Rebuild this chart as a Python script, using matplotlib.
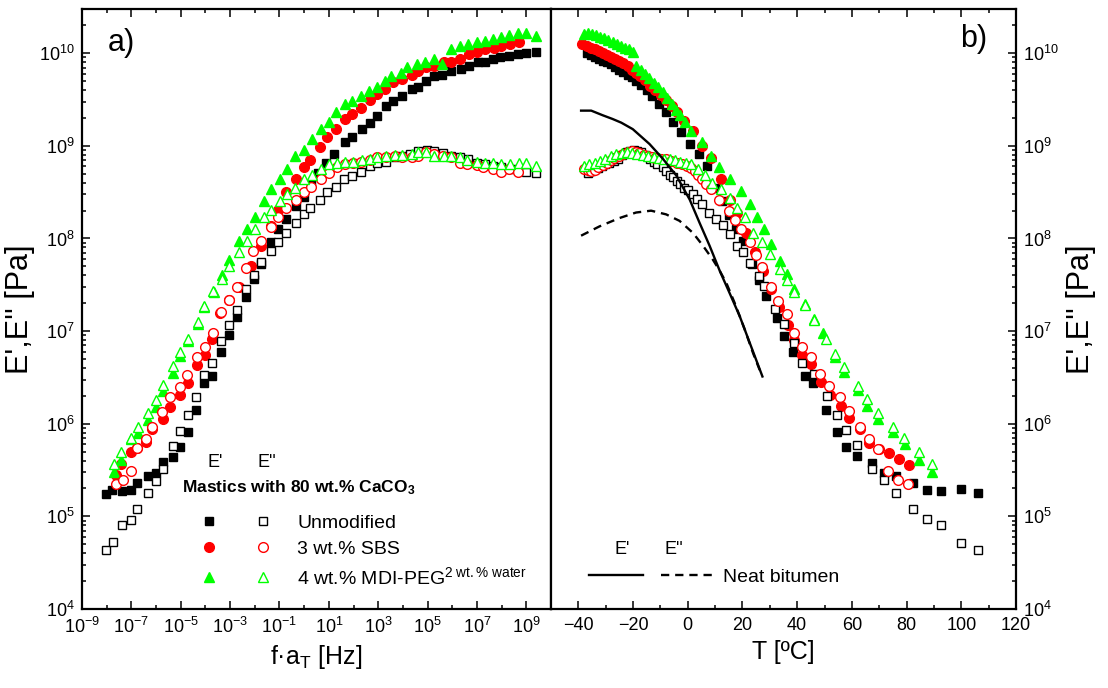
import numpy as np
import matplotlib
matplotlib.use('Agg')
import matplotlib.pyplot as plt
from matplotlib.ticker import FixedLocator, MultipleLocator, NullFormatter, LogFormatterSciNotation

plt.rcParams['font.family'] = ['Liberation Sans', 'DejaVu Sans']
plt.rcParams['mathtext.fontset'] = 'custom'
plt.rcParams['mathtext.rm'] = 'Liberation Sans'
plt.rcParams['mathtext.it'] = 'Liberation Sans:italic'
plt.rcParams['mathtext.bf'] = 'Liberation Sans:bold'

# ---- panel a): master curves vs reduced frequency (log10 f*aT, log10 E) ----
unmod_E1_lf = [-8.04, -7.77, -7.38, -7.03, -6.77, -6.33, -6.02, -5.72, -5.32, -5.01, -4.71, -4.40, -4.05, -3.74, -3.35,
               -3.04, -2.74, -2.34, -2.04, -1.73, -1.33, -1.07, -0.72, -0.33, -0.02, 0.26, 0.55, 0.87, 1.21, 1.64,
               1.95, 2.34, 2.65, 2.96, 3.31, 3.61, 3.97, 4.36, 4.62, 4.93, 5.28, 5.59, 5.94, 6.37, 6.68,
               7.03, 7.34, 7.64, 7.95, 8.30, 8.65, 9.00, 9.40]
unmod_E1_lE = [5.24, 5.29, 5.27, 5.29, 5.36, 5.44, 5.47, 5.59, 5.64, 5.75, 5.91, 6.15, 6.44, 6.52, 6.77,
               6.96, 7.15, 7.37, 7.56, 7.72, 7.96, 8.10, 8.21, 8.35, 8.45, 8.59, 8.71, 8.82, 8.91, 9.04,
               9.09, 9.18, 9.25, 9.32, 9.43, 9.48, 9.54, 9.61, 9.64, 9.70, 9.75, 9.77, 9.81, 9.83, 9.86,
               9.90, 9.91, 9.94, 9.96, 9.97, 9.99, 10.00, 10.01]
unmod_E2_lf = [-8.04, -7.73, -7.38, -7.03, -6.77, -6.33, -6.02, -5.72, -5.32, -5.01, -4.71, -4.40, -4.05, -3.74, -3.35,
               -3.04, -2.74, -2.34, -2.04, -1.73, -1.33, -1.07, -0.72, -0.33, -0.02, 0.24, 0.64, 0.94, 1.29, 1.60,
               1.95, 2.30, 2.65, 2.96, 3.31, 3.70, 3.97, 4.27, 4.62, 4.97, 5.28, 5.63, 5.94, 6.33, 6.64,
               6.99, 7.34, 7.64, 7.99, 8.35, 8.65, 9.00, 9.40]
unmod_E2_lE = [4.64, 4.72, 4.91, 4.96, 5.08, 5.25, 5.38, 5.51, 5.76, 5.92, 6.09, 6.29, 6.53, 6.66, 6.89,
               7.07, 7.23, 7.45, 7.61, 7.75, 7.86, 7.96, 8.06, 8.17, 8.26, 8.33, 8.42, 8.50, 8.56, 8.64,
               8.67, 8.72, 8.78, 8.82, 8.83, 8.88, 8.89, 8.91, 8.94, 8.96, 8.94, 8.92, 8.89, 8.88, 8.86,
               8.82, 8.80, 8.78, 8.77, 8.75, 8.75, 8.72, 8.71]
sbs_E1_lf = [-7.64, -7.42, -7.03, -6.77, -6.42, -6.15, -5.72, -5.45, -5.01, -4.71, -4.36, -4.01, -3.74, -3.39, -3.04,
             -2.65, -2.17, -1.73, -1.33, -1.07, -0.72, -0.33, -0.02, 0.24, 0.64, 0.94, 1.29, 1.64, 1.95, 2.30,
             2.65, 2.96, 3.26, 3.61, 3.97, 4.36, 4.62, 4.93, 5.28, 5.67, 5.94, 6.33, 6.68, 6.99, 7.34,
             7.69, 7.99, 8.35, 8.70]
sbs_E1_lE = [5.45, 5.57, 5.69, 5.74, 5.80, 5.94, 6.05, 6.18, 6.31, 6.44, 6.63, 6.74, 6.91, 7.20, 7.34,
             7.48, 7.70, 7.92, 8.13, 8.31, 8.50, 8.64, 8.77, 8.85, 8.99, 9.09, 9.18, 9.29, 9.34, 9.41,
             9.50, 9.56, 9.61, 9.69, 9.72, 9.77, 9.81, 9.85, 9.86, 9.90, 9.91, 9.94, 9.99, 10.01, 10.04,
             10.06, 10.08, 10.10, 10.12]
sbs_E2_lf = [-7.64, -7.34, -7.03, -6.77, -6.42, -6.15, -5.76, -5.45, -5.01, -4.75, -4.36, -4.01, -3.70, -3.35, -3.04,
             -2.74, -2.34, -2.08, -1.73, -1.33, -1.07, -0.72, -0.33, -0.02, 0.29, 0.68, 0.99, 1.34, 1.64, 1.99,
             2.30, 2.65, 2.96, 3.31, 3.70, 3.97, 4.36, 4.62, 4.93, 5.28, 5.63, 5.94, 6.33, 6.59, 6.99,
             7.25, 7.64, 7.99, 8.30, 8.65]
sbs_E2_lE = [5.35, 5.39, 5.49, 5.74, 5.84, 5.97, 6.13, 6.29, 6.40, 6.53, 6.72, 6.83, 6.98, 7.21, 7.34,
             7.48, 7.68, 7.86, 7.97, 8.12, 8.23, 8.33, 8.42, 8.50, 8.56, 8.64, 8.71, 8.77, 8.80, 8.82,
             8.83, 8.85, 8.88, 8.88, 8.89, 8.88, 8.88, 8.89, 8.93, 8.91, 8.89, 8.88, 8.82, 8.80, 8.79,
             8.77, 8.75, 8.72, 8.75, 8.72]
mdi_E1_lf = [-7.69, -7.42, -7.03, -6.72, -6.33, -6.02, -5.72, -5.32, -5.01, -4.71, -4.31, -4.05, -3.66, -3.31, -3.04,
             -2.65, -2.30, -1.99, -1.64, -1.33, -0.98, -0.68, -0.37, -0.02, 0.33, 0.68, 0.99, 1.29, 1.64, 1.95,
             2.30, 2.61, 2.96, 3.26, 3.53, 3.92, 4.18, 4.58, 4.88, 5.24, 5.59, 5.94, 6.33, 6.64, 6.99,
             7.34, 7.64, 7.99, 8.30, 8.65, 9.00, 9.40]
mdi_E1_lE = [5.48, 5.61, 5.83, 5.90, 6.04, 6.18, 6.35, 6.55, 6.73, 6.89, 7.08, 7.26, 7.42, 7.61, 7.77,
             7.97, 8.10, 8.23, 8.40, 8.53, 8.64, 8.75, 8.89, 8.96, 9.07, 9.18, 9.26, 9.36, 9.45, 9.48,
             9.54, 9.59, 9.64, 9.70, 9.75, 9.79, 9.85, 9.88, 9.91, 9.94, 9.88, 10.04, 10.08, 10.10, 10.12,
             10.13, 10.15, 10.18, 10.20, 10.22, 10.22, 10.19]
mdi_E2_lf = [-7.69, -7.42, -7.03, -6.72, -6.33, -6.02, -5.72, -5.32, -5.01, -4.71, -4.31, -4.05, -3.70, -3.31, -3.04,
             -2.65, -2.30, -1.99, -1.64, -1.33, -0.98, -0.68, -0.37, -0.02, 0.33, 0.68, 0.99, 1.34, 1.64, 1.99,
             2.34, 2.65, 2.96, 3.31, 3.70, 3.97, 4.36, 4.62, 4.93, 5.28, 5.67, 5.94, 6.33, 6.59, 6.99,
             7.34, 7.64, 7.99, 8.35, 8.70, 9.00, 9.40]
mdi_E2_lE = [5.57, 5.69, 5.85, 5.97, 6.12, 6.26, 6.42, 6.62, 6.77, 6.91, 7.10, 7.27, 7.43, 7.56, 7.70,
             7.85, 7.97, 8.10, 8.23, 8.31, 8.40, 8.48, 8.55, 8.64, 8.69, 8.75, 8.80, 8.82, 8.83, 8.83,
             8.85, 8.86, 8.88, 8.89, 8.90, 8.90, 8.91, 8.93, 8.93, 8.89, 8.89, 8.89, 8.88, 8.85, 8.83,
             8.82, 8.82, 8.80, 8.80, 8.82, 8.82, 8.78]

# ---- panel b): temperature sweeps (T in degC, log10 E) ----
unmod_E1_T = [-37.0, -35.5, -34.0, -32.5, -31.0, -29.5, -28.0, -26.5, -25.0, -23.5, -22.0, -20.5, -19.0, -17.0, -15.0,
              -13.0, -10.5, -8.0, -5.5, -2.5, 0.8, 4.1, 7.0, 10.0, 12.5, 15.0, 17.5, 20.1, 23.4, 26.0,
              28.6, 32.5, 35.1, 38.4, 42.7, 45.8, 50.7, 54.4, 58.0, 62.0, 67.4, 71.6, 76.3, 82.3, 87.5,
              92.7, 100.0, 106.2]
unmod_E1_TlE = [10.00, 9.98, 9.96, 9.94, 9.92, 9.90, 9.88, 9.85, 9.82, 9.80, 9.77, 9.74, 9.70, 9.66, 9.60,
                9.54, 9.45, 9.36, 9.26, 9.15, 9.02, 8.91, 8.78, 8.55, 8.40, 8.25, 8.10, 7.97, 7.72, 7.55,
                7.38, 7.14, 6.95, 6.77, 6.52, 6.44, 6.15, 5.91, 5.75, 5.65, 5.58, 5.47, 5.44, 5.36, 5.29,
                5.27, 5.30, 5.25]
unmod_E2_T = [-36.6, -35.3, -34.0, -32.7, -31.4, -30.1, -28.8, -27.1, -25.5, -23.9, -22.3, -21.0, -19.7, -18.4, -17.1,
              -15.5, -13.8, -12.5, -11.2, -9.2, -7.9, -6.6, -5.3, -4.0, -2.7, -1.4, 0.2, 1.9, 3.5, 5.1,
              7.7, 10.3, 12.9, 15.5, 18.1, 20.1, 22.7, 26.0, 27.9, 31.8, 35.1, 39.0, 41.9, 46.2, 51.0,
              54.4, 57.9, 62.0, 67.4, 71.6, 76.3, 82.3, 87.5, 92.7, 100.0, 106.2]
unmod_E2_TlE = [8.71, 8.73, 8.75, 8.76, 8.78, 8.80, 8.82, 8.84, 8.86, 8.90, 8.93, 8.94, 8.95, 8.94, 8.93,
                8.90, 8.86, 8.83, 8.80, 8.77, 8.73, 8.69, 8.66, 8.62, 8.59, 8.55, 8.52, 8.48, 8.43, 8.37,
                8.28, 8.21, 8.14, 8.05, 7.92, 7.85, 7.74, 7.60, 7.49, 7.24, 7.08, 6.87, 6.66, 6.54, 6.30,
                6.09, 5.93, 5.77, 5.51, 5.39, 5.25, 5.08, 4.97, 4.91, 4.71, 4.64]
sbs_E1_T = [-38.6, -37.0, -35.5, -34.0, -32.5, -31.0, -29.5, -28.0, -26.5, -25.0, -23.5, -22.0, -20.5, -19.0, -17.5,
            -15.8, -13.8, -11.8, -9.8, -7.9, -5.9, -4.0, -1.4, 1.9, 5.1, 8.4, 12.3, 15.5, 18.1, 21.4,
            24.5, 27.5, 30.5, 33.5, 36.5, 39.0, 41.9, 44.9, 48.8, 52.0, 56.0, 59.0, 63.1, 66.4, 70.0,
            73.6, 77.1, 80.7]
sbs_E1_TlE = [10.10, 10.08, 10.06, 10.04, 10.02, 10.00, 9.98, 9.96, 9.94, 9.92, 9.89, 9.86, 9.82, 9.79, 9.75,
              9.71, 9.65, 9.60, 9.55, 9.49, 9.43, 9.37, 9.27, 9.16, 9.00, 8.87, 8.64, 8.42, 8.28, 8.06,
              7.85, 7.65, 7.45, 7.26, 7.07, 6.90, 6.74, 6.64, 6.45, 6.31, 6.19, 6.06, 5.94, 5.79, 5.73,
              5.68, 5.62, 5.55]
sbs_E2_T = [-37.9, -36.6, -35.3, -34.0, -32.7, -31.0, -29.4, -28.1, -26.8, -25.2, -23.6, -22.0, -20.3, -19.0, -17.7,
            -16.0, -14.4, -13.1, -11.8, -9.8, -7.9, -6.0, -4.0, -2.0, -0.1, 1.2, 2.5, 3.8, 5.1, 6.7,
            8.4, 11.6, 14.9, 17.2, 19.5, 22.7, 24.8, 27.0, 30.5, 33.1, 36.4, 39.0, 41.9, 44.9, 48.4,
            51.8, 55.7, 58.8, 63.1, 66.4, 69.6, 73.2, 76.8, 80.5]
sbs_E2_TlE = [8.75, 8.74, 8.73, 8.74, 8.77, 8.79, 8.82, 8.85, 8.87, 8.89, 8.91, 8.93, 8.94, 8.93, 8.92,
              8.90, 8.89, 8.88, 8.87, 8.86, 8.86, 8.84, 8.82, 8.80, 8.78, 8.76, 8.73, 8.69, 8.64, 8.59,
              8.53, 8.42, 8.30, 8.20, 8.10, 7.96, 7.82, 7.69, 7.48, 7.33, 7.18, 6.98, 6.83, 6.72, 6.54,
              6.41, 6.29, 6.14, 5.96, 5.83, 5.73, 5.49, 5.39, 5.35]
mdi_E1_T = [-37.9, -36.5, -35.0, -33.5, -32.0, -30.5, -29.0, -27.5, -26.0, -24.5, -23.0, -21.5, -20.0, -18.8, -17.2,
            -15.6, -14.0, -12.4, -10.8, -9.2, -7.6, -5.9, -4.3, -2.7, -1.0, 1.2, 5.1, 8.4, 11.6, 15.5,
            19.5, 22.7, 25.3, 27.9, 30.5, 33.8, 36.4, 39.0, 42.9, 46.2, 49.4, 54.0, 57.3, 62.2, 65.7,
            69.6, 74.9, 79.5, 84.6, 89.2]
mdi_E1_TlE = [10.21, 10.22, 10.21, 10.20, 10.18, 10.16, 10.14, 10.12, 10.10, 10.08, 10.06, 10.04, 10.01, 9.86, 9.82,
              9.78, 9.73, 9.68, 9.63, 9.58, 9.52, 9.45, 9.39, 9.33, 9.26, 9.16, 9.04, 8.89, 8.77, 8.64,
              8.51, 8.37, 8.23, 8.10, 7.94, 7.76, 7.62, 7.45, 7.29, 7.13, 6.98, 6.72, 6.56, 6.36, 6.19,
              6.05, 5.91, 5.78, 5.61, 5.48]
mdi_E2_T = [-37.9, -36.0, -34.0, -32.0, -30.1, -28.1, -26.2, -24.2, -22.3, -20.3, -18.4, -16.4, -14.4, -12.5, -10.5,
            -8.6, -6.6, -4.7, -2.7, -0.8, 1.2, 3.8, 6.4, 9.0, 12.3, 15.5, 18.1, 20.8, 24.0, 27.3,
            29.9, 33.8, 36.4, 39.0, 42.9, 46.2, 50.7, 54.0, 57.3, 62.2, 65.7, 69.6, 74.9, 79.0, 84.6,
            89.2]
mdi_E2_TlE = [8.78, 8.80, 8.82, 8.84, 8.86, 8.89, 8.91, 8.92, 8.93, 8.92, 8.91, 8.90, 8.89, 8.88, 8.87,
              8.86, 8.86, 8.85, 8.83, 8.82, 8.80, 8.75, 8.68, 8.60, 8.53, 8.44, 8.33, 8.23, 8.06, 7.96,
              7.83, 7.67, 7.55, 7.42, 7.28, 7.12, 6.91, 6.75, 6.61, 6.41, 6.27, 6.12, 5.96, 5.85, 5.69,
              5.56]
neat_E1_T = [-39.0, -35.3, -31.1, -27.5, -24.3, -20.1, -14.0, -9.1, -4.2, 0.7, 4.3, 8.0, 11.7, 15.3, 19.0, 22.7, 27.3]
neat_E1_lE = [9.38, 9.38, 9.33, 9.29, 9.25, 9.18, 9.02, 8.86, 8.68, 8.42, 8.17, 7.92, 7.65, 7.41, 7.16, 6.87, 6.51]
neat_E2_T = [-39.0, -32.3, -25.0, -18.9, -13.4, -7.9, -3.0, 1.9, 5.6, 9.2, 11.7, 14.1, 17.2, 20.8, 23.9, 26.3]
neat_E2_lE = [8.03, 8.13, 8.22, 8.28, 8.30, 8.26, 8.19, 8.06, 7.92, 7.77, 7.65, 7.52, 7.30, 7.02, 6.76, 6.58]

BLACK, RED, GREEN = '#000000', '#ff0000', '#00ff00'
series = [('s', BLACK, 6.0), ('o', RED, 7.0), ('^', GREEN, 7.5)]

W, H = 1108, 688
fig = plt.figure(figsize=(W / 100, H / 100), dpi=100)
top, bot = 9, 609
axa = fig.add_axes([82 / W, 1 - bot / H, (551 - 82) / W, (bot - top) / H])
axb = fig.add_axes([551 / W, 1 - bot / H, (1016 - 551) / W, (bot - top) / H])


def p(v):
    return 10 ** np.asarray(v)


a_E1 = [(unmod_E1_lf, unmod_E1_lE), (sbs_E1_lf, sbs_E1_lE), (mdi_E1_lf, mdi_E1_lE)]
a_E2 = [(unmod_E2_lf, unmod_E2_lE), (sbs_E2_lf, sbs_E2_lE), (mdi_E2_lf, mdi_E2_lE)]
b_E1 = [(unmod_E1_T, unmod_E1_TlE), (sbs_E1_T, sbs_E1_TlE), (mdi_E1_T, mdi_E1_TlE)]
b_E2 = [(unmod_E2_T, unmod_E2_TlE), (sbs_E2_T, sbs_E2_TlE), (mdi_E2_T, mdi_E2_TlE)]

for (m, c, ms), (x, y) in zip(series, a_E1):
    axa.plot(p(x), p(y), ls='none', marker=m, ms=ms, color=c, mec=c, mew=1.0)
for (m, c, ms), (x, y) in zip(series, a_E2):
    axa.plot(p(x), p(y), ls='none', marker=m, ms=ms, color=c, mec=c, mfc='white', mew=1.0)
for (m, c, ms), (x, y) in zip(series, b_E1):
    axb.plot(x, p(y), ls='none', marker=m, ms=ms, color=c, mec=c, mew=1.0)
for (m, c, ms), (x, y) in zip(series, b_E2):
    axb.plot(x, p(y), ls='none', marker=m, ms=ms, color=c, mec=c, mfc='white', mew=1.0)
dash = (0, (3.5, 2.5))
axb.plot(neat_E1_T, p(neat_E1_lE), color='k', lw=1.7)
axb.plot(neat_E2_T, p(neat_E2_lE), color='k', lw=1.7, ls=dash)

ymajor = [10.0 ** k for k in range(4, 11)]
yminor = [s * 10.0 ** k for k in range(4, 11) for s in range(2, 10) if s * 10.0 ** k < 3e10]
for ax in (axa, axb):
    ax.set_yscale('log')
    ax.set_ylim(1e4, 3e10)
    ax.yaxis.set_major_locator(FixedLocator(ymajor))
    ax.yaxis.set_minor_locator(FixedLocator(yminor))
    ax.yaxis.set_major_formatter(LogFormatterSciNotation())
    ax.yaxis.set_minor_formatter(NullFormatter())
    for s in ax.spines.values():
        s.set_linewidth(1.6)
    ax.tick_params(which='both', direction='in', labelsize=13, width=1.1)
    ax.tick_params(which='major', length=5.5)
    ax.tick_params(which='minor', length=3)
    ax.tick_params(axis='y', which='both', pad=5)
    ax.tick_params(axis='x', which='both', pad=6)

axa.set_xscale('log')
axa.set_xlim(1e-9, 1e10)
axa.xaxis.set_major_locator(FixedLocator([10.0 ** k for k in range(-9, 10, 2)]))
axa.xaxis.set_minor_locator(FixedLocator([10.0 ** k for k in range(-8, 10, 2)]))
axa.xaxis.set_major_formatter(LogFormatterSciNotation())
axa.xaxis.set_minor_formatter(NullFormatter())
axa.tick_params(which='both', top=True, right=False, left=True, bottom=True)
axa.set_xlabel('f\u00b7a$_\\mathregular{T}$ [Hz]', fontsize=18, labelpad=4)
axa.set_ylabel("E',E'' [Pa]", fontsize=22, labelpad=3)

axb.set_xlim(-50, 120)
axb.xaxis.set_major_locator(FixedLocator([-40, -20, 0, 20, 40, 60, 80, 100, 120]))
axb.xaxis.set_minor_locator(MultipleLocator(10))
axb.yaxis.tick_right()
axb.yaxis.set_label_position('right')
axb.tick_params(which='both', top=True, right=True, left=False, bottom=True, labelleft=False, labelright=True)
axb.set_xlabel('T [\u00baC]', fontsize=18, labelpad=4)
axb.set_ylabel("E',E'' [Pa]", fontsize=22, labelpad=5)

axa.text(0.084, 0.943, 'a)', transform=axa.transAxes, fontsize=22, ha='center', va='center')
axb.text(0.91, 0.95, 'b)', transform=axb.transAxes, fontsize=22, ha='center', va='center')

# legend of panel a)
ta = axa.transAxes
axa.text(0.284, 0.244, "E'", transform=ta, fontsize=13, ha='center', va='center')
axa.text(0.395, 0.244, "E''", transform=ta, fontsize=13, ha='center', va='center')
axa.text(0.213, 0.2015, 'Mastics with 80 wt.% CaCO$_\\mathbf{3}$', transform=ta, fontsize=12.5,
         fontweight='bold', ha='left', va='center')
labels_a = ['Unmodified', '3 wt.% SBS', '4 wt.% MDI-PEG$^{\\mathregular{2\\ wt.\\%\\ water}}$']
rows_y = [0.146, 0.103, 0.053]
for (m, c, ms), ry, lab in zip(series, rows_y, labels_a):
    axa.plot([0.270], [ry], transform=ta, ls='none', marker=m, ms=ms, color=c, mec=c, mew=1.0, clip_on=False)
    axa.plot([0.386], [ry], transform=ta, ls='none', marker=m, ms=ms, color=c, mec=c, mfc='white', mew=1.0,
             clip_on=False)
    axa.text(0.459, ry - 0.011, lab, transform=ta, fontsize=14, ha='left', va='baseline')

# legend of panel b)
tb = axb.transAxes
axb.text(0.153, 0.099, "E'", transform=tb, fontsize=13, ha='center', va='center')
axb.text(0.264, 0.099, "E''", transform=tb, fontsize=13, ha='center', va='center')
axb.plot([0.082, 0.197], [0.056, 0.056], transform=tb, color='k', lw=1.7)
axb.plot([0.237, 0.348], [0.056, 0.056], transform=tb, color='k', lw=1.7, ls=dash)
axb.text(0.369, 0.056 - 0.011, 'Neat bitumen', transform=tb, fontsize=14, ha='left', va='baseline')

fig.savefig('out.png', dpi=100)
